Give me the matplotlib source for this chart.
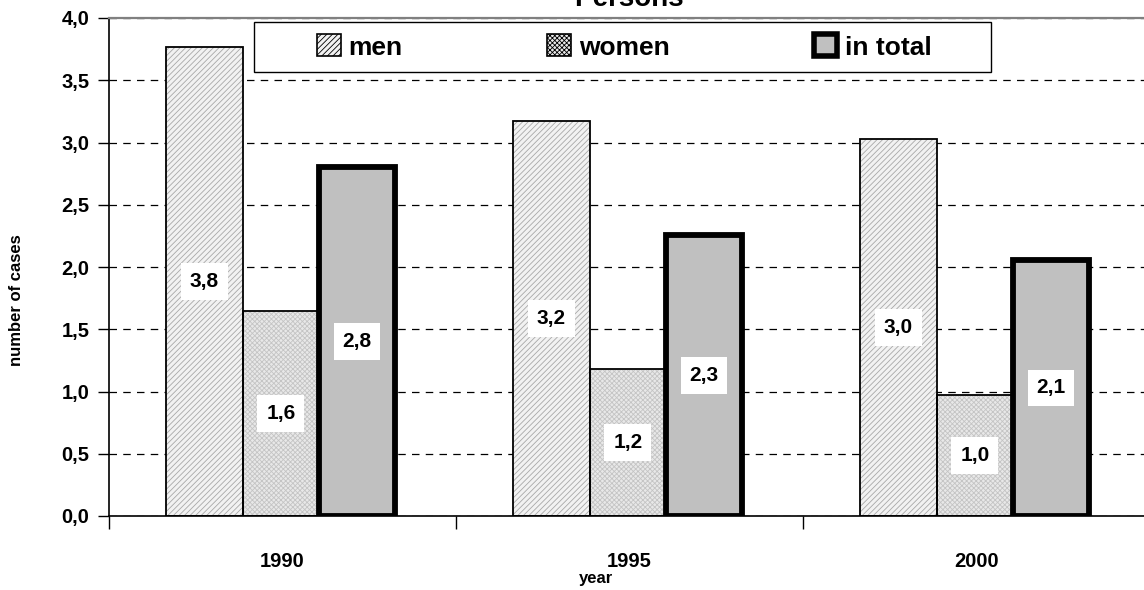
import numpy as np
import matplotlib
matplotlib.use("Agg")
import matplotlib.pyplot as plt
from matplotlib.patches import Patch, Rectangle

years = ["1990", "1995", "2000"]
men = [3.77, 3.17, 3.03]
women = [1.65, 1.18, 0.97]
total = [2.80, 2.26, 2.06]

plt.rcParams['font.family'] = ['Liberation Sans', 'DejaVu Sans']
plt.rcParams['font.weight'] = 'bold'
plt.rcParams['hatch.linewidth'] = 0.6

fig = plt.figure(figsize=(11.44, 5.9), dpi=100)
ax = fig.add_axes([109/1144, 1-516/590, 1041/1144, 498/590])

x = np.arange(len(years))
w = 0.22

def fmt(v):
    return "{:.1f}".format(v).replace(".", ",")

men_style = dict(color="#f2f2f2", hatch="//////", edgecolor="#a8a8a8")
women_style = dict(color="#e8e8e8", hatch="xxxxxxx", edgecolor="#c4c4c4")

# hatch drawn first without outline, black outline drawn on top
ax.bar(x - 0.225, men, w, linewidth=0, zorder=2, **men_style)
ax.bar(x - 0.225, men, w, fill=False, edgecolor="black", linewidth=1.3, zorder=3)
ax.bar(x - 0.005, women, w, linewidth=0, zorder=2, **women_style)
ax.bar(x - 0.005, women, w, fill=False, edgecolor="black", linewidth=1.3, zorder=3)
ax.bar(x + 0.215, total, w, color="#c0c0c0", edgecolor="black", linewidth=4.2, zorder=3)

box = dict(boxstyle="square,pad=0.42", facecolor="white", edgecolor="none")
for off, vals in [(-0.225, men), (-0.005, women), (0.215, total)]:
    for xi, v in zip(x, vals):
        ax.text(xi + off, v / 2, fmt(v), ha="center", va="center", fontsize=15,
                fontweight="bold", bbox=box, zorder=4)

ax.set_xlim(-0.5, 2.5)
ax.set_ylim(0, 4)
yt = np.arange(0, 4.01, 0.5)
ax.set_yticks(yt)
ax.set_yticklabels([fmt(v) for v in yt], fontsize=14.5, fontweight="bold")
ax.set_xticks(x)
ax.set_xticklabels(years, fontsize=14.5, fontweight="bold")
ax.set_xticks([-0.5, 0.5, 1.5], minor=True)
ax.tick_params(axis="x", which="major", length=0, pad=26)
ax.tick_params(axis="x", which="minor", length=9, direction="out", width=1)
ax.tick_params(axis="y", length=8, width=1, direction="out", pad=6)

ax.yaxis.grid(True, linestyle=(0, (6, 5)), color="black", linewidth=0.9, zorder=0)
ax.set_axisbelow(True)
ax.spines["top"].set_color("#808080")
ax.spines["top"].set_linewidth(1.6)
ax.spines["right"].set_visible(False)
ax.spines["left"].set_linewidth(1.2)
ax.spines["bottom"].set_linewidth(1.2)

fig.text(629/1144, 1-6/590, "Persons", ha="center", va="baseline", fontsize=20, fontweight="bold")
fig.text(17/1144, 1-300/590, "number of cases", rotation=90, ha="center", va="center",
         fontsize=12, fontweight="bold")
fig.text(596/1144, 1-578/590, "year", ha="center", va="center", fontsize=12, fontweight="bold")

# legend frame drawn separately so it can be wider than the entries
fig.patches.append(Rectangle((254/1144, 1-72/590), 737/1144, 50/590, transform=fig.transFigure,
                             facecolor="white", edgecolor="black", linewidth=1.0, zorder=5))
handles = [
    Patch(facecolor="#f2f2f2", hatch="//////", edgecolor="black", linewidth=1.2),
    Patch(facecolor="#e8e8e8", hatch="xxxxxxx", edgecolor="black", linewidth=1.2),
    Patch(facecolor="#c0c0c0", edgecolor="black", linewidth=4),
]
leg = fig.legend(handles, ["men", "women", "in total"], ncol=3, loc="center", mode="expand",
                 bbox_to_anchor=(317/1144, 1-72/590, 615/1144, 50/590), frameon=False,
                 prop={"weight": "bold", "size": 19}, borderaxespad=0,
                 handlelength=0.9, handleheight=0.9, handletextpad=0.3, borderpad=0)
leg.set_zorder(6)

fig.savefig("out.png", dpi=100)
